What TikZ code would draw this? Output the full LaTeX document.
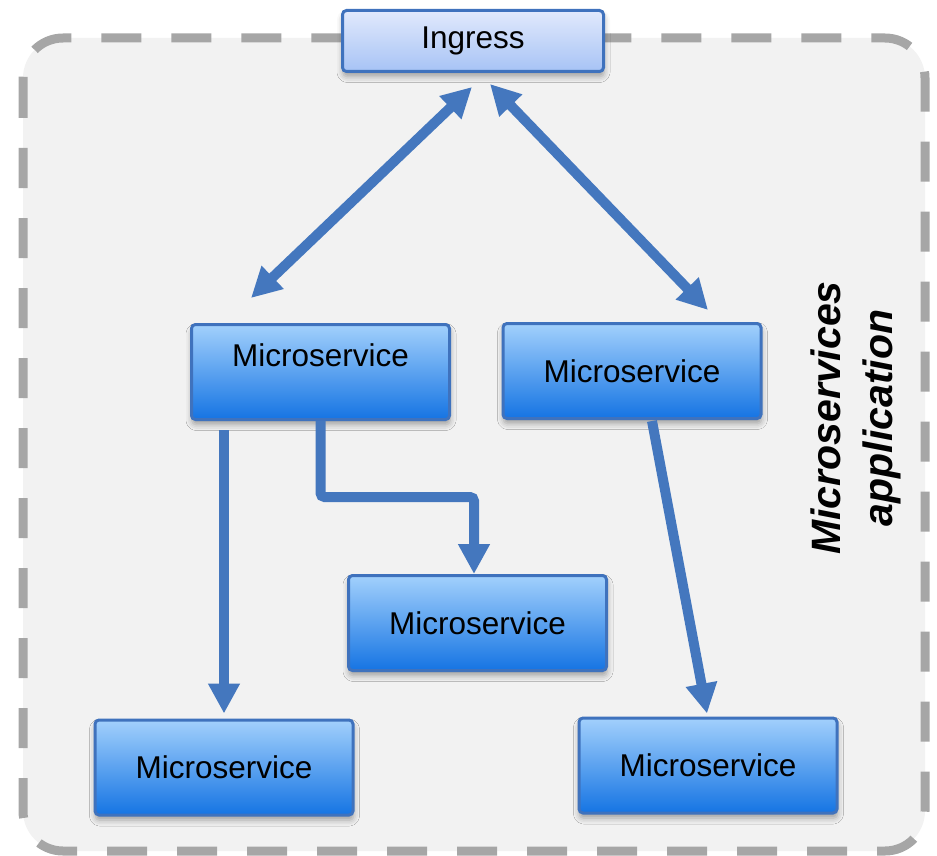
\documentclass[tikz,border=0pt]{standalone}
\usepackage{fontspec}
\setmainfont{Liberation Sans}
\usetikzlibrary{arrows.meta,shadows.blur}
\definecolor{framegray}{HTML}{A6A6A6}
\definecolor{panel}{HTML}{F2F2F2}
\definecolor{edge}{HTML}{3F72BD}
\definecolor{linkblue}{HTML}{4477BE}
\definecolor{msTop}{HTML}{A2D0FC}
\definecolor{msBot}{HTML}{1574E3}
\definecolor{inTop}{HTML}{E1E9FC}
\definecolor{inBot}{HTML}{A7C3F5}
\begin{document}
\begin{tikzpicture}[x=1pt,y=-1pt,
  boxbase/.style={draw=edge, line width=3pt, rounded corners=4pt, inner sep=0pt,
    font=\fontsize{31.5}{37}\selectfont,
    blur shadow={shadow xshift=0.5pt, shadow yshift=-5pt, shadow blur radius=6pt, shadow opacity=35}},
  service/.style={boxbase, top color=msTop, bottom color=msBot,
    minimum width=258pt, minimum height=95pt},
  gateway/.style={boxbase, top color=inTop, bottom color=inBot,
    minimum width=261pt, minimum height=61pt},
  tip/.tip={Triangle[width=30pt,length=30pt]},
  flow/.style={draw=linkblue, line width=10pt, -tip},
  twoway/.style={draw=linkblue, line width=10pt, tip-tip}]
\useasboundingbox (0,0) rectangle (937,856);

% application panel with dashed outline
\draw[framegray, line width=9pt, dash pattern=on 40pt off 30pt, fill=panel,
  rounded corners=40pt] (23,38) rectangle (925,851);

% side caption
\node[rotate=90, align=center, font=\fontsize{41}{52}\selectfont\bfseries\itshape]
  (caption) at (856,418) {Microservices\\application};

% boxes
\node[gateway] (ing) at (473,41) {Ingress};
\node[service, label={[font=\fontsize{31.5}{37}\selectfont, yshift=17pt]center:Microservice}]
  (ms1) at (320.5,372) {};
\node[service] (ms2) at (632,371) {Microservice};
\node[service] (ms3) at (477.5,623) {Microservice};
\node[service] (ms4) at (224,767.5) {Microservice};
\node[service] (ms5) at (708,765.5) {Microservice};

% connections
\draw[twoway] ([xshift=-1pt,yshift=-14pt]ing.south) -- ([xshift=-69.5pt,yshift=25pt]ms1.north);
\draw[twoway] ([xshift=17pt,yshift=-11pt]ing.south) -- ([xshift=76pt,yshift=12pt]ms2.north);
\draw[flow] ([xshift=-96.5pt,yshift=-9pt]ms1.south) -- ([yshift=5pt]ms4.north);
\draw[flow, rounded corners=4pt] (ms1.south) -- ++(0,76) -| ([xshift=-3.5pt]ms3.north);
\draw[flow] ([xshift=20pt,yshift=-1pt]ms2.south) -- ([xshift=-1pt,yshift=3pt]ms5.north);
\end{tikzpicture}
\end{document}
